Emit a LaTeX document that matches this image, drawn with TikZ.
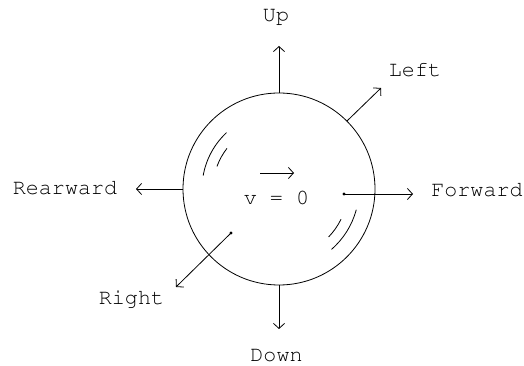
\documentclass[tikz,border=0pt]{standalone}
\usepackage[T1]{fontenc}
\usepackage{courier}
\usetikzlibrary{arrows.meta}

\begin{document}
\begin{tikzpicture}[x=1pt,y=1pt,>={Straight Barb[length=5pt,width=11pt]},line width=0.8pt,
  lbl/.style={font=\ttfamily\fontsize{21.7}{22}\selectfont,inner sep=0pt,anchor=base}]
\useasboundingbox (0,0) rectangle (524,366);
\node[circle,draw,minimum size=192pt,inner sep=0pt] (ball) at (279,177) {};
\coordinate (fdot) at (344,172);
\coordinate (rdot) at (231,133);
\coordinate (uptip) at (279,320);
\coordinate (downtip) at (279,37);
\coordinate (reartip) at (136,177);
\coordinate (fwdtip) at (413,172);
\coordinate (lefttip) at (381,278);
\coordinate (righttip) at (176,79);
\coordinate (vfrom) at (260,193);
\coordinate (vto) at (294,193);
\node[lbl] (Up) at (276,344) {Up};
\node[lbl] (Down) at (276.5,4) {Down};
\node[lbl] (Rear) at (65,171) {Rearward};
\node[lbl] (Fwd) at (477,169) {Forward};
\node[lbl] (Left) at (415,289) {Left};
\node[lbl] (Right) at (131.5,61) {Right};
\node[lbl] (v) at (276.5,161) {v = 0};
\draw[->] (ball.north) -- (uptip);
\draw[->] (ball.south) -- (downtip);
\draw[->] (ball.west) -- (reartip);
\draw[->] (ball.45) -- (lefttip);
\draw[->] (fdot) -- (fwdtip);
\draw[->] (rdot) -- (righttip);
\draw[->] (vfrom) -- (vto);
\fill (fdot) circle (1.6);
\fill (rdot) circle (1.6);
% shine marks
\draw (ball.center) ++(133:77) arc (133:170:77);
\draw (ball.center) ++(142:66) arc (142:160:66);
\draw (ball.center) ++(-15:80) arc (-15:-49:80);
\draw (ball.center) ++(-26:69) arc (-26:-44:69);
\end{tikzpicture}
\end{document}
